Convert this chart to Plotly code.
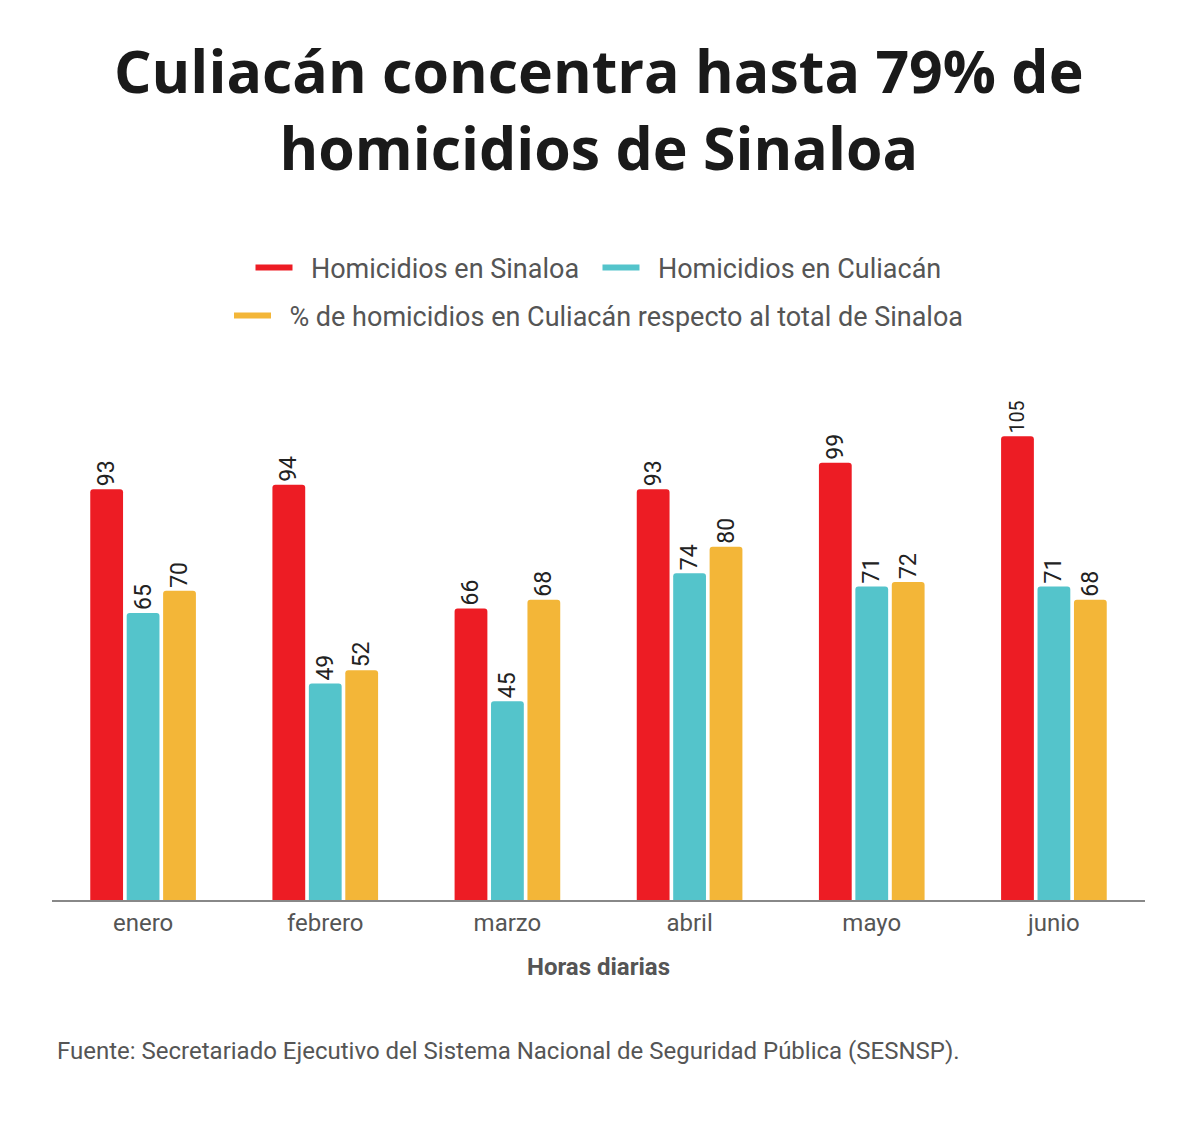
import plotly.graph_objects as go

meses = ["enero", "febrero", "marzo", "abril", "mayo", "junio"]
sinaloa = [93, 94, 66, 93, 99, 105]
culiacan = [65, 49, 45, 74, 71, 71]
porcentaje = [70, 52, 68, 80, 72, 68]

series_names = [
    "Homicidios en Sinaloa",
    "Homicidios en Culiacán",
    "% de homicidios en Culiacán respecto al total de Sinaloa",
]
legend_suffix = ["\u00a0\u00a0", "", ""]
colors = ["#ED1C24", "#54C4CB", "#F3B638"]
series_values = [sinaloa, culiacan, porcentaje]
legend_ids = ["legend", "legend", "legend2"]

FONT = "Roboto"
TXT = "#555555"

fig = go.Figure()
for name, vals, col in zip(series_names, series_values, colors):
    fig.add_trace(go.Bar(
        x=meses, y=vals, name=name, marker=dict(color=col, cornerradius=3, line=dict(width=0)),
        text=[str(v) for v in vals], textposition="outside", textangle=-90,
        textfont=dict(family=FONT, size=23, color="#222222"),
        cliponaxis=False, showlegend=False, legendgroup=name,
    ))
for name, suf, col, lg in zip(series_names, legend_suffix, colors, legend_ids):
    fig.add_trace(go.Scatter(
        x=[None], y=[None], mode="lines", name="\u00a0\u00a0" + name + suf, legendgroup=name,
        line=dict(color=col, width=6), showlegend=True, legend=lg,
    ))

legend_style = dict(
    orientation="h", x=0.5, xanchor="center", yanchor="middle",
    font=dict(family=FONT, size=27, color=TXT),
    traceorder="normal", itemwidth=37, bgcolor="rgba(0,0,0,0)",
)

fig.update_layout(
    width=1200, height=1142,
    paper_bgcolor="white", plot_bgcolor="white",
    margin=dict(l=44, r=63, t=362, b=250, autoexpand=False),
    barmode="group", bargap=0.4, bargroupgap=0.1,
    font=dict(family=FONT, color=TXT),
    legend=dict(y=(900 - 268) / 530, **legend_style),
    legend2=dict(y=(900 - 316) / 530, **legend_style),
    xaxis=dict(
        showline=True, linecolor="#888888", linewidth=1.5,
        ticks="", tickfont=dict(family=FONT, size=24, color=TXT),
        title=dict(text="<b>Horas diarias</b>", font=dict(family=FONT, size=24, color=TXT), standoff=23),
        showgrid=False,
    ),
    yaxis=dict(range=[0, 120], visible=False, showgrid=False, zeroline=False),
)

fig.add_annotation(
    text="<b>Culiacán concentra hasta 79% de<br>homicidios de Sinaloa</b>",
    xref="paper", yref="paper", x=0.5, y=1.494, xanchor="center", yanchor="middle",
    showarrow=False, font=dict(family="Open Sans", size=59, color="#1a1a1a"),
)

fig.add_annotation(
    text="Fuente: Secretariado Ejecutivo del Sistema Nacional de Seguridad Pública (SESNSP).",
    xref="paper", yref="paper", x=0.003, y=-0.285, xanchor="left", yanchor="middle",
    showarrow=False, font=dict(family=FONT, size=24, color=TXT),
)

fig.write_html("out.html")
